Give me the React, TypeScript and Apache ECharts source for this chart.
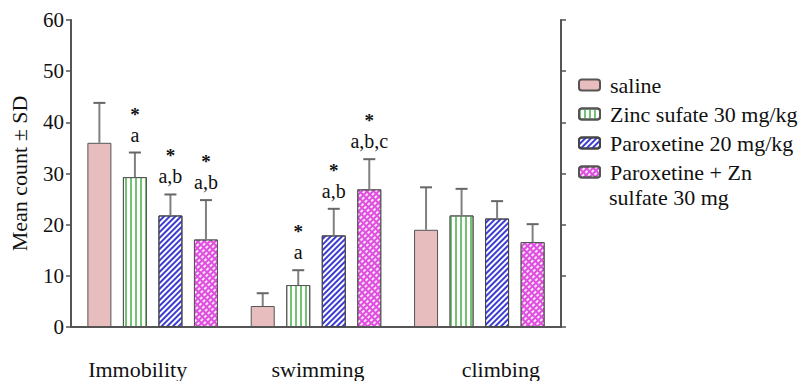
import React, { useEffect, useRef } from "react";
import * as echarts from "echarts";

const categories = ["Immobility", "swimming", "climbing"];
const seriesNames = [
  "saline",
  "Zinc sufate 30 mg/kg",
  "Paroxetine 20 mg/kg",
  "Paroxetine + Zn",
];
const salineMean = [36.0, 4.1, 19.0];
const salineSD = [7.8, 2.5, 8.3];
const zincMean = [29.3, 8.2, 21.8];
const zincSD = [4.8, 2.9, 5.2];
const paroxMean = [21.8, 17.9, 21.2];
const paroxSD = [4.1, 5.2, 3.4];
const comboMean = [17.1, 26.9, 16.6];
const comboSD = [7.7, 5.9, 3.5];
const salineMarks = ["", "", ""];
const zincMarks = ["a", "a", ""];
const paroxMarks = ["a,b", "a,b", ""];
const comboMarks = ["a,b", "a,b,c", ""];
const legendSecondLine = "sulfate 30 mg";
const yAxisName = "Mean count ± SD";

const means = [salineMean, zincMean, paroxMean, comboMean];
const sds = [salineSD, zincSD, paroxSD, comboSD];
const marks = [salineMarks, zincMarks, paroxMarks, comboMarks];

const SERIF = "Times New Roman";
const BAR_W = 24;
const BAR_GAP = 0.48;

export default function App() {
  const ref = useRef<HTMLDivElement>(null);
  useEffect(() => {
    if (!ref.current) return;
    const chart = echarts.init(ref.current, undefined, { renderer: "svg" });

    const styles: any[] = [
      { color: "#e8bdbd", borderColor: "#555", borderWidth: 1 },
      {
        color: "#ffffff",
        borderColor: "#555",
        borderWidth: 1,
        decal: {
          symbol: "rect",
          symbolSize: 1,
          color: "#74c274",
          dashArrayX: [2, 3],
          dashArrayY: [4, 0],
          rotation: 0,
        },
      },
      {
        color: "#ffffff",
        borderColor: "#444",
        borderWidth: 1,
        decal: {
          symbol: "rect",
          symbolSize: 1,
          color: "#3c3cd2",
          dashArrayX: [1, 0],
          dashArrayY: [2, 1.5],
          rotation: -Math.PI / 4,
        },
      },
      {
        color: "#e04ee0",
        borderColor: "#555",
        borderWidth: 1,
        decal: {
          symbol: "rect",
          symbolSize: 1,
          color: "rgba(255,255,255,0.85)",
          dashArrayX: [3, 2],
          dashArrayY: [2, 2],
          rotation: -Math.PI / 4,
        },
      },
    ];

    const barSeries = seriesNames.map((name, si) => ({
      type: "bar",
      name,
      data: means[si],
      barWidth: BAR_W,
      barGap: BAR_GAP * 100 + "%",
      itemStyle: styles[si],
      xAxisIndex: 0,
      yAxisIndex: 0,
      z: 2,
    }));

    const errData: number[][] = [];
    const errMarks: string[] = [];
    means.forEach((arr, si) => {
      arr.forEach((v, ci) => {
        errData.push([ci, v, sds[si][ci], si]);
        errMarks.push(marks[si][ci]);
      });
    });

    const errSeries = {
      type: "custom",
      name: "err",
      xAxisIndex: 0,
      yAxisIndex: 0,
      z: 5,
      data: errData,
      renderItem: (params: any, api: any) => {
        const ci = api.value(0);
        const v = api.value(1);
        const sd = api.value(2);
        const si = api.value(3);
        const base = api.coord([ci, v]);
        const top = api.coord([ci, v + sd]);
        const x = base[0] + (si - 1.5) * (BAR_W * (1 + BAR_GAP));
        const children: any[] = [
          {
            type: "line",
            shape: { x1: x, y1: base[1], x2: x, y2: top[1] },
            style: { stroke: "#808080", lineWidth: 2 },
          },
          {
            type: "line",
            shape: { x1: x - 6, y1: top[1], x2: x + 6, y2: top[1] },
            style: { stroke: "#666", lineWidth: 2 },
          },
        ];
        const m = errMarks[params.dataIndex];
        if (m) {
          children.push({
            type: "text",
            style: {
              text: `{s|*}\n{l|${m}}`,
              x,
              y: top[1] - 8,
              align: "center",
              verticalAlign: "bottom",
              rich: {
                s: {
                  fontFamily: SERIF,
                  fontWeight: "bold",
                  fontSize: 19,
                  lineHeight: 21,
                  fill: "#111",
                  align: "center",
                },
                l: {
                  fontFamily: SERIF,
                  fontSize: 20,
                  lineHeight: 20,
                  fill: "#111",
                  align: "center",
                },
              },
            },
          });
        }
        return { type: "group", children };
      },
      silent: true,
    };

    const option: any = {
      animation: false,
      grid: { left: 66, right: 244, top: 20, bottom: 54, containLabel: false },
      legend: {
        orient: "vertical",
        left: 578,
        top: 74,
        padding: 0,
        itemWidth: 21,
        itemHeight: 11,
        itemGap: 7,
        data: seriesNames,
        textStyle: {
          fontFamily: SERIF,
          fontSize: 22,
          color: "#111",
          lineHeight: 22,
          padding: [0, 0, 0, 5],
        },
        selectedMode: false,
      },
      graphic: [
        {
          type: "text",
          left: 609,
          top: 186,
          style: {
            text: legendSecondLine,
            fontFamily: SERIF,
            fontSize: 22,
            fill: "#111",
          },
        },
      ],
      xAxis: [
        {
          type: "category",
          data: categories,
          position: "bottom",
          axisLine: { lineStyle: { color: "#555", width: 2 } },
          axisTick: { show: false },
          axisLabel: {
            interval: 0,
            margin: 31,
            fontFamily: SERIF,
            fontSize: 22,
            color: "#111",
            formatter: (v: string, i: number) => `{c${i}|${v}}`,
            rich: {
              c0: { fontFamily: SERIF, fontSize: 22, color: "#111", padding: [0, 30, 0, 0] },
              c1: { fontFamily: SERIF, fontSize: 22, color: "#111", padding: [0, 0, 0, 4] },
              c2: { fontFamily: SERIF, fontSize: 22, color: "#111", padding: [0, 0, 0, 43] },
            },
          },
        },
        {
          type: "category",
          data: categories,
          position: "top",
          axisLine: { lineStyle: { color: "#555", width: 2 } },
          axisTick: { show: false },
          axisLabel: { show: false },
        },
      ],
      yAxis: [
        {
          type: "value",
          min: 0,
          max: 60,
          interval: 10,
          position: "left",
          name: yAxisName,
          nameLocation: "middle",
          nameGap: 41,
          nameTextStyle: { fontFamily: SERIF, fontSize: 22, color: "#111" },
          axisLine: { show: true, lineStyle: { color: "#555", width: 2 } },
          axisTick: { show: true, length: 5, lineStyle: { color: "#555", width: 1.5 } },
          axisLabel: { fontFamily: SERIF, fontSize: 21, color: "#111", margin: 7 },
          splitLine: { show: false },
        },
        {
          type: "value",
          min: 0,
          max: 60,
          interval: 10,
          position: "right",
          axisLine: { show: true, lineStyle: { color: "#555", width: 2 } },
          axisTick: { show: true, length: 5, lineStyle: { color: "#555", width: 1.5 } },
          axisLabel: { show: false },
          splitLine: { show: false },
        },
      ],
      series: [...barSeries, errSeries],
    };
    chart.setOption(option);
    return () => chart.dispose();
  }, []);
  return (
    <div
      ref={ref}
      style={{ position: "fixed", left: 0, top: 0, width: 805, height: 381, background: "#fff" }}
    />
  );
}
